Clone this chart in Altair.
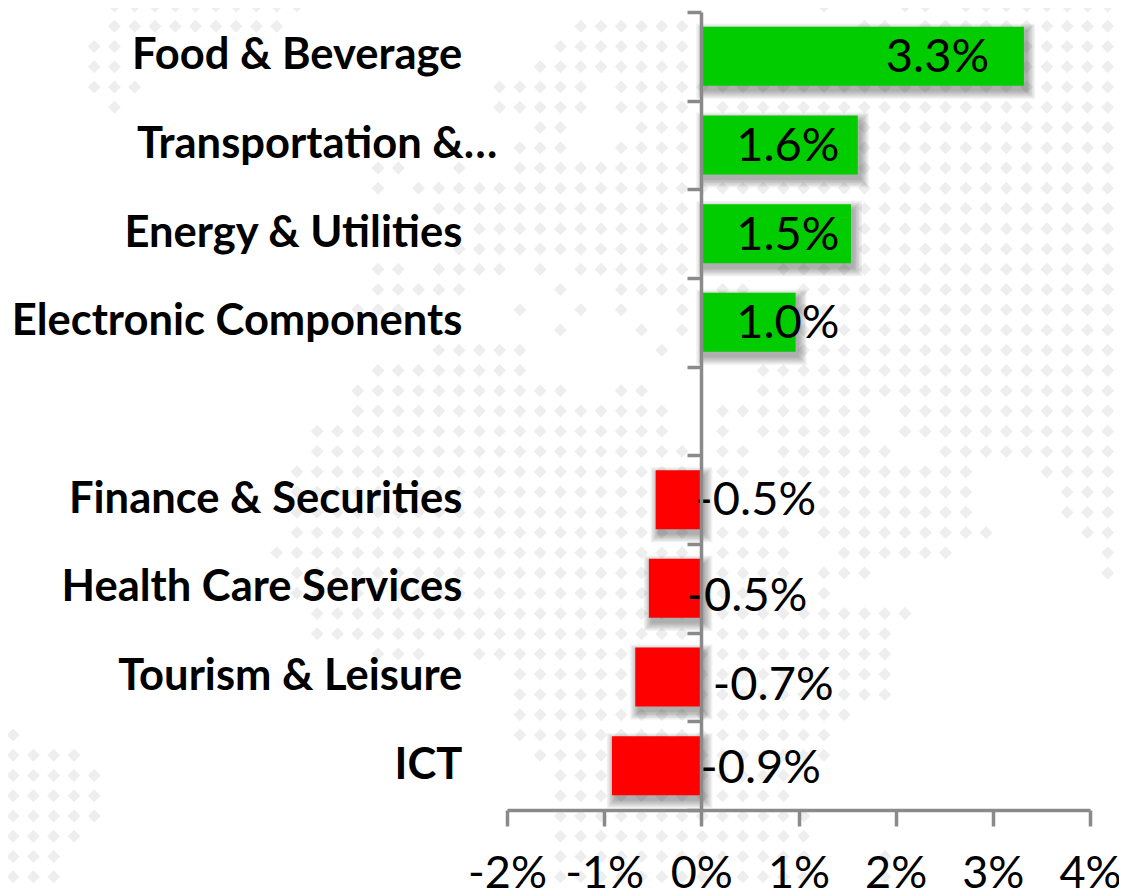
import altair as alt
import pandas as pd

categories = ["Food & Beverage", "Transportation &…", "Energy & Utilities", "Electronic Components", " ",
              "Finance & Securities", "Health Care Services", "Tourism & Leisure", "ICT"]
values = [3.32, 1.61, 1.54, 0.97, None, -0.47, -0.54, -0.68, -0.92]
value_labels = ["3.3%", "1.6%", "1.5%", "1.0%", "", "-0.5%", "-0.5%", "-0.7%", "-0.9%"]
label_centres = [2.43, 0.89, 0.89, 0.89, None, 0.56, 0.47, 0.74, 0.61]
label_dy = [1, 1, 1, 1, 0, 0, 8, 8, 2]
name_right = [-2.46, -2.10, -2.46, -2.46, None, -2.46, -2.46, -2.46, -2.46]
colours = ["#00cc00", "#00cc00", "#00cc00", "#00cc00", "#00cc00", "#ff0000", "#ff0000", "#ff0000", "#ff0000"]
x_ticks = [-2, -1, 0, 1, 2, 3, 4]

# Decorative dotted map: row -> runs of occupied grid columns
dot_rows = {
    0: [(5, 14), (40, 40), (44, 45), (47, 54)], 1: [(5, 13), (28, 33), (42, 43), (45, 54)],
    2: [(4, 5), (27, 33), (42, 54)], 3: [(4, 5), (26, 33), (42, 54)],
    4: [(4, 6), (24, 28), (30, 54)], 5: [(5, 5), (24, 28), (30, 33), (35, 54)],
    6: [(26, 27), (31, 33), (42, 54)], 7: [(25, 27), (30, 33), (42, 54)],
    8: [(18, 19), (22, 22), (25, 33), (42, 54)], 9: [(18, 18), (20, 54)],
    10: [(21, 33), (42, 54)], 11: [(23, 33), (42, 54)], 12: [(22, 33), (42, 54)],
    13: [(18, 19), (21, 24), (26, 26), (28, 33), (38, 54)],
    14: [(18, 22), (27, 27), (30, 33), (35, 36), (39, 54)],
    15: [(17, 19), (25, 25), (28, 28), (30, 30), (33, 33), (39, 54)],
    16: [(27, 27), (31, 31), (33, 33), (39, 54)],
    17: [(21, 25), (32, 32), (39, 54)], 18: [(18, 25), (37, 54)],
    19: [(17, 27), (30, 31), (37, 54)], 20: [(17, 32), (35, 42), (44, 54)],
    21: [(15, 32), (35, 35), (37, 42), (44, 54)], 22: [(15, 33), (35, 36), (38, 43), (46, 54)],
    23: [(14, 33), (35, 36), (38, 47), (51, 54)], 24: [(14, 33), (40, 47), (52, 54)],
    25: [(14, 33), (40, 47), (52, 54)], 26: [(14, 33), (35, 38), (40, 48), (53, 54)],
    27: [(13, 33), (35, 38), (41, 46), (54, 54)], 28: [(14, 33), (35, 38), (40, 42), (54, 54)],
    29: [(14, 33), (35, 38), (40, 40)], 30: [(15, 33), (35, 44)], 31: [(15, 33), (35, 43)],
    32: [(18, 20), (23, 43)], 33: [(25, 43)], 34: [(25, 43)], 35: [(25, 41)],
    36: [(0, 0), (25, 40)], 37: [(0, 3), (26, 40)], 38: [(0, 4), (27, 38)], 39: [(0, 4), (27, 38)],
    40: [(0, 4), (27, 39)], 41: [(0, 3), (27, 39)], 42: [(0, 2), (27, 39), (43, 43)],
    43: [(0, 2), (27, 39), (43, 43)],
}

dots = pd.DataFrame([
    {"col": c, "row": r}
    for r, runs in dot_rows.items() for a, b in runs for c in range(a, b + 1)
])
df = pd.DataFrame({
    "cat": categories, "value": values, "label": value_labels, "centre": label_centres,
    "dy": label_dy, "right": name_right, "colour": colours,
})
bars_df = df[df["value"].notna()]

grey = "#8a8a8a"
FONT = "Lato"
BAR = 59
x_scale = alt.Scale(domain=[-2, 4], nice=False, zero=False)
y_scale = alt.Scale(type="band", domain=categories, padding=0)

x_axis = alt.Axis(
    values=x_ticks, labelExpr="datum.value + '%'", title=None, grid=False,
    domainColor=grey, domainWidth=3.5, tickColor=grey, tickWidth=3.5, tickSize=16,
    labelFont=FONT, labelFontSize=45, labelColor="#000000", labelPadding=25,
    labelOverlap=False, labelFlush=False, zindex=1,
)

dot_layer = alt.Chart(dots).transform_calculate(
    xv="(12.8 + 20.27 * datum.col - 701) / 97.17",
    yv="6 + 20.25 * datum.row",
).mark_point(shape="diamond", filled=True, size=165, color="#eeeeee", opacity=1).encode(
    x=alt.X("xv:Q", scale=x_scale, axis=x_axis),
    y=alt.Y("yv:Q", axis=None, scale=alt.Scale(domain=[12, 810], reverse=True, nice=False, zero=False)),
)

base_y = alt.Y("cat:N", scale=y_scale, sort=None, axis=None)

shadow_layers = [
    alt.Chart(bars_df).transform_calculate(zero="0").mark_bar(
        color="#000000", opacity=0.055, stroke="#000000", strokeWidth=w, size=BAR,
        xOffset=3, x2Offset=3, yOffset=5, y2Offset=5,
    ).encode(
        x=alt.X("value:Q", scale=x_scale), x2="zero:Q", y=base_y,
    )
    for w in [16, 13, 10, 7, 4, 1]
]

bar_layer = alt.Chart(bars_df).transform_calculate(zero="0").mark_bar(size=BAR).encode(
    x=alt.X("value:Q", scale=x_scale),
    x2="zero:Q",
    y=alt.Y("cat:N", scale=y_scale, sort=None, axis=alt.Axis(
        title=None, labels=False, grid=False, offset=-194, tickBand="extent",
        domainColor=grey, domainWidth=3.5, tickColor=grey, tickWidth=3.5, tickSize=14, zindex=1,
    )),
    color=alt.Color("colour:N", scale=None),
)

value_layers = [
    alt.Chart(df[df["cat"] == c]).mark_text(
        font=FONT, fontSize=47, color="#000000", align="center", baseline="middle", dy=int(d) + 1,
    ).encode(
        x=alt.X("centre:Q", scale=x_scale),
        y=base_y,
        text="label:N",
    )
    for c, d, v in zip(categories, label_dy, values) if v is not None
]

name_layer = alt.Chart(df[df["right"].notna()]).mark_text(
    font=FONT, fontSize=43.5, fontWeight="bold", color="#000000", align="right", baseline="middle",
).encode(
    x=alt.X("right:Q", scale=x_scale),
    y=base_y,
    text="cat:N",
)

chart = alt.layer(
    dot_layer, *shadow_layers, bar_layer, *value_layers, name_layer
).resolve_scale(y="independent").properties(
    width=583, height=798,
    padding={"left": 499, "top": 4, "right": 29, "bottom": 86},
    autosize=alt.AutoSizeParams(type="none"),
    background="#ffffff",
).configure_view(stroke=None)

chart.save("out.html", embed_options={"renderer": "svg", "actions": False})
